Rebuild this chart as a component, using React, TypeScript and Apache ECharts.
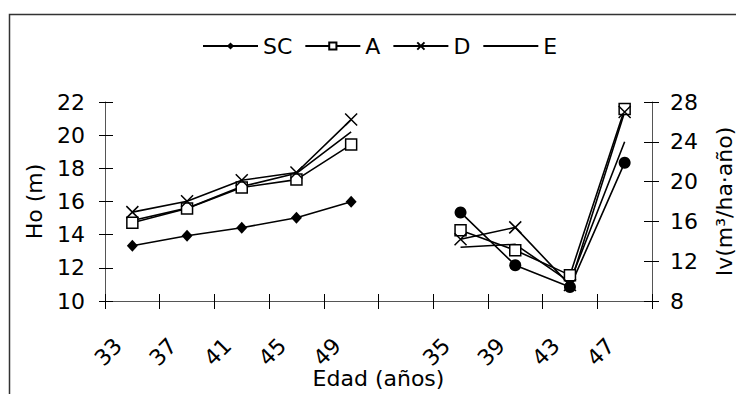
import React, { useEffect, useRef } from "react";
import * as echarts from "echarts";

const categories = ["33", "37", "41", "45", "49", "", "35", "39", "43", "47"];
const seriesNames = ["SC", "A", "D", "E"];

// Ho (m), left panel (ages 33..49)
const hoSC = [13.33, 13.93, 14.42, 15.02, 15.98];
const hoA = [14.72, 15.58, 16.84, 17.32, 19.43];
const hoD = [15.36, 16.02, 17.28, 17.75, 20.94];
const hoE = [14.85, 15.6, 16.9, 17.7, 20.2];

// Iv (m3/ha·año), right panel (ages 35..47)
const ivSC = [16.9, 11.6, 9.4, 21.9];
const ivA = [15.1, 13.1, 10.6, 27.3];
const ivD = [14.2, 15.4, 9.6, 27.0];
const ivE = [13.4, 13.7, 9.9, 24.0];

const leftTicks = { min: 10, max: 22, interval: 2 };
const rightTicks = { min: 8, max: 28, interval: 4 };

const FONT = "DejaVu Sans";
const FS = 22;

const crossPath = "path://M0,0L10,10M10,0L0,10";

function leftData(v: number[]) {
  return [...v, ...Array(categories.length - v.length).fill(null)];
}
function rightData(v: number[]) {
  return [...Array(categories.length - v.length).fill(null), ...v];
}

const styles: Record<string, any> = {
  SC: { symbol: "diamond", symbolSize: [11, 12], itemStyle: { color: "#000" } },
  A: {
    symbol: "rect",
    symbolSize: 11,
    itemStyle: { color: "#fff", borderColor: "#000", borderWidth: 1.5 },
  },
  D: {
    symbol: crossPath,
    symbolSize: 12,
    itemStyle: { color: "none", borderColor: "#000", borderWidth: 1.5 },
  },
  E: {
    symbol: "circle",
    showSymbol: false,
    symbolSize: 0,
    itemStyle: { color: "rgba(0,0,0,0)", borderWidth: 0 },
  },
};

export default function App() {
  const ref = useRef<HTMLDivElement>(null);
  useEffect(() => {
    if (!ref.current) return;
    const chart = echarts.init(ref.current, undefined, { renderer: "svg" });
    const leftSets: Record<string, number[]> = { SC: hoSC, A: hoA, D: hoD, E: hoE };
    const rightSets: Record<string, number[]> = { SC: ivSC, A: ivA, D: ivD, E: ivE };

    const series: any[] = [];
    seriesNames.forEach((n) => {
      series.push({
        name: n,
        type: "line",
        xAxisIndex: 0,
        yAxisIndex: 0,
        data: leftData(leftSets[n]),
        connectNulls: false,
        showSymbol: true,
        lineStyle: { color: "#000", width: 1.6 },
        z: n === "E" ? 2 : 3,
        ...styles[n],
      });
    });
    seriesNames.forEach((n) => {
      const st =
        n === "SC"
          ? { symbol: "circle", symbolSize: 12, itemStyle: { color: "#000" } }
          : styles[n];
      series.push({
        name: n + " Iv",
        type: "line",
        xAxisIndex: 0,
        yAxisIndex: 1,
        data: rightData(rightSets[n]),
        connectNulls: false,
        showSymbol: true,
        lineStyle: { color: "#000", width: 1.6 },
        z: n === "E" ? 2 : 3,
        ...st,
      });
    });

    const axisLine = { show: true, lineStyle: { color: "#555", width: 1 } };
    const baseLabel = { color: "#000", fontSize: FS, fontFamily: FONT };

    chart.setOption({
      animation: false,
      backgroundColor: "#fff",
      textStyle: { fontFamily: FONT },
      legend: {
        data: seriesNames,
        left: 197,
        top: 30,
        itemWidth: 55,
        itemHeight: 9,
        itemGap: 12,
        textStyle: { color: "#000", fontSize: FS, fontFamily: FONT },
      },
      grid: {
        left: 105,
        right: 84,
        top: 102,
        bottom: 93,
        containLabel: false,
        outerBoundsMode: "none",
      },
      xAxis: [
        {
          type: "category",
          data: categories,
          boundaryGap: true,
          position: "bottom",
          axisLine,
          axisTick: { show: true, inside: false, length: 8, lineStyle: { color: "#000" } },
          axisLabel: {
            ...baseLabel,
            interval: 0,
            rotate: 45,
            margin: 27,
            padding: [0, 20, 0, 0],
          },
          name: "Edad (años)",
          nameLocation: "middle",
          nameGap: 66,
          nameMoveOverlap: false,
          nameTextStyle: baseLabel,
          splitLine: { show: false },
        },
        {
          type: "category",
          data: categories,
          boundaryGap: true,
          position: "bottom",
          axisLine: { show: false },
          axisTick: { show: true, inside: true, length: 7, lineStyle: { color: "#000" } },
          axisLabel: { show: false },
          splitLine: { show: false },
        },
      ],
      yAxis: [
        {
          type: "value",
          position: "left",
          ...leftTicks,
          axisLine,
          axisTick: { show: true, inside: false, length: 6, lineStyle: { color: "#000" } },
          axisLabel: { ...baseLabel, margin: 20 },
          splitLine: { show: false },
          name: "Ho (m)",
          nameLocation: "middle",
          nameRotate: 90,
          nameGap: 60,
          nameMoveOverlap: false,
          nameTextStyle: baseLabel,
        },
        {
          type: "value",
          position: "right",
          ...rightTicks,
          axisLine,
          axisTick: { show: true, inside: false, length: 7, lineStyle: { color: "#000" } },
          axisLabel: { ...baseLabel, margin: 18 },
          splitLine: { show: false },
          name: "Iv(m³/ha·año)",
          nameLocation: "middle",
          nameRotate: 90,
          nameGap: 61,
          nameMoveOverlap: false,
          nameTextStyle: baseLabel,
        },
        {
          type: "value",
          position: "left",
          ...leftTicks,
          axisLine: { show: false },
          axisTick: { show: true, inside: true, length: 8, lineStyle: { color: "#000" } },
          axisLabel: { show: false },
          splitLine: { show: false },
        },
        {
          type: "value",
          position: "right",
          ...rightTicks,
          axisLine: { show: false },
          axisTick: { show: true, inside: true, length: 8, lineStyle: { color: "#000" } },
          axisLabel: { show: false },
          splitLine: { show: false },
        },
      ],
      graphic: [
        {
          type: "rect",
          shape: { x: 9.5, y: 14.5, width: 800, height: 450 },
          style: { fill: "none", stroke: "#333", lineWidth: 1.5 },
          silent: true,
        },
      ],
      series,
    });
    return () => chart.dispose();
  }, []);
  return <div ref={ref} style={{ width: 736, height: 394, position: "fixed", left: 0, top: 0 }} />;
}
